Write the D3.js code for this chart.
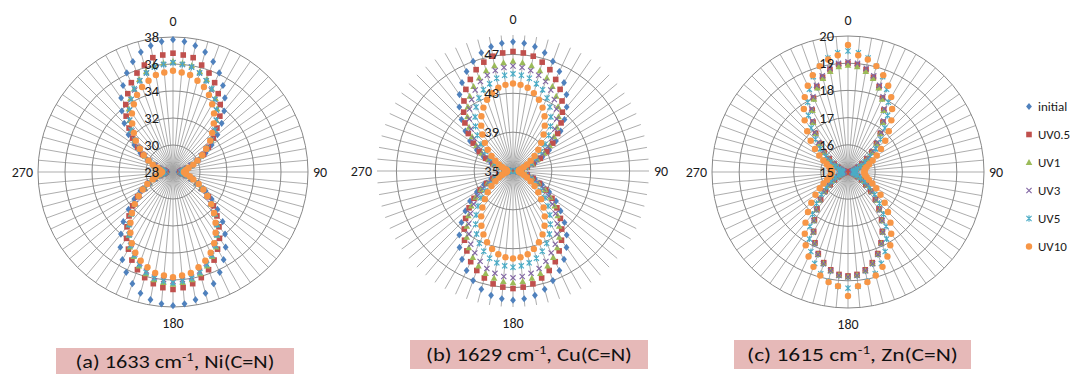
<!DOCTYPE html>
<html>
<head>
<meta charset="utf-8">
<script src="https://cdn.jsdelivr.net/npm/d3@7"></script>
<style>
  body { margin: 0; background: #fff; }
  svg { display: block; font-family: Carlito, Calibri, "Liberation Sans", "Open Sans", sans-serif; }
</style>
</head>
<body>
<div id="chart"></div>
<script>
const W = 1073, H = 374;

// categories: angle in degrees, 5 degree steps
const angles = d3.range(0, 360, 5);
const catShown = [0, 90, 180, 270];
const seriesNames = ["initial", "UV0.5", "UV1", "UV3", "UV5", "UV10"];
const colors = ["#4F81BD", "#C0504D", "#9BBB59", "#8064A2", "#4BACC6", "#F79646"];

const ticksA = [28, 30, 32, 34, 36, 38];
const ticksB = [35, 39, 43, 47];
const ticksC = [15, 16, 17, 18, 19, 20];

// (a) Ni(C=N) 1633 cm-1
const niInit = [37.8,37.7,37.5,37.2,36.7,36.1,35.4,34.7,33.9,33.1,32.3,31.5,30.8,30.1,29.5,29.0,28.7,28.5,28.4,
  28.5,28.7,29.0,29.5,30.1,30.8,31.5,32.3,33.2,34.0,34.8,35.5,36.2,36.8,37.3,37.6,37.8,37.9,
  37.8,37.6,37.3,36.8,36.2,35.5,34.8,34.0,33.2,32.3,31.5,30.8,30.1,29.5,29.0,28.7,28.5,28.4,
  28.5,28.7,29.0,29.5,30.1,30.8,31.5,32.3,33.1,33.9,34.7,35.4,36.1,36.7,37.2,37.5,37.7];
const niUV05 = [36.8,36.7,36.6,36.2,35.8,35.3,34.7,34.1,33.4,32.6,31.9,31.2,30.6,30.0,29.5,29.1,28.7,28.6,28.5,
  28.6,28.7,29.0,29.5,30.0,30.5,31.2,31.9,32.6,33.3,34.0,34.6,35.2,35.7,36.1,36.4,36.6,36.7,
  36.6,36.4,36.1,35.7,35.2,34.6,34.0,33.3,32.6,31.9,31.2,30.5,30.0,29.5,29.0,28.7,28.6,28.5,
  28.6,28.7,29.1,29.5,30.0,30.6,31.2,31.9,32.6,33.4,34.1,34.7,35.3,35.8,36.2,36.6,36.7];
const niUV1 = [36.2,36.1,36.0,35.7,35.3,34.8,34.3,33.7,33.0,32.3,31.7,31.0,30.4,29.9,29.4,29.0,28.7,28.6,28.5,
  28.6,28.7,29.0,29.4,29.9,30.4,31.1,31.7,32.4,33.1,33.7,34.4,34.9,35.4,35.8,36.1,36.2,36.3,
  36.2,36.1,35.8,35.4,34.9,34.4,33.7,33.1,32.4,31.7,31.1,30.4,29.9,29.4,29.0,28.7,28.6,28.5,
  28.6,28.7,29.0,29.4,29.9,30.4,31.0,31.7,32.3,33.0,33.7,34.3,34.8,35.3,35.7,36.0,36.1];
const niUV3 = [36.1,36.0,35.9,35.6,35.2,34.7,34.2,33.6,33.0,32.3,31.6,31.0,30.4,29.9,29.4,29.0,28.7,28.6,28.5,
  28.6,28.7,29.0,29.4,29.9,30.4,31.0,31.6,32.3,33.0,33.6,34.2,34.7,35.2,35.6,35.9,36.0,36.1,
  36.0,35.9,35.6,35.2,34.7,34.2,33.6,33.0,32.3,31.6,31.0,30.4,29.9,29.4,29.0,28.7,28.6,28.5,
  28.6,28.7,29.0,29.4,29.9,30.4,31.0,31.6,32.3,33.0,33.6,34.2,34.7,35.2,35.6,35.9,36.0];
const niUV5 = [36.1,36.0,35.9,35.6,35.2,34.8,34.2,33.6,33.0,32.4,31.7,31.1,30.5,29.9,29.5,29.1,28.8,28.7,28.6,
  28.7,28.8,29.1,29.5,30.0,30.5,31.1,31.7,32.4,33.1,33.7,34.3,34.8,35.3,35.7,36.0,36.1,36.2,
  36.1,36.0,35.7,35.3,34.8,34.3,33.7,33.1,32.4,31.7,31.1,30.5,30.0,29.5,29.1,28.8,28.7,28.6,
  28.7,28.8,29.1,29.5,29.9,30.5,31.1,31.7,32.4,33.0,33.6,34.2,34.8,35.2,35.6,35.9,36.0];
const niUV10 = [35.5,35.4,35.3,35.0,34.7,34.3,33.8,33.3,32.7,32.1,31.6,31.0,30.5,30.0,29.6,29.2,29.0,28.9,28.8,
  28.9,29.0,29.3,29.6,30.1,30.6,31.1,31.7,32.3,32.9,33.5,34.1,34.6,35.0,35.3,35.6,35.7,35.8,
  35.7,35.6,35.3,35.0,34.6,34.1,33.5,32.9,32.3,31.7,31.1,30.6,30.1,29.6,29.3,29.0,28.9,28.8,
  28.9,29.0,29.2,29.6,30.0,30.5,31.0,31.6,32.1,32.7,33.3,33.8,34.3,34.7,35.0,35.3,35.4];

// (b) Cu(C=N) 1629 cm-1
const cuInit = [48.3,48.2,48.0,47.6,47.0,46.3,45.5,44.6,43.6,42.5,41.4,40.4,39.3,38.3,37.4,36.6,36.0,35.5,35.3,
  35.5,36.0,36.6,37.4,38.3,39.3,40.4,41.4,42.5,43.6,44.6,45.5,46.3,47.0,47.6,48.0,48.2,48.3,
  48.2,48.0,47.6,47.0,46.3,45.5,44.6,43.6,42.5,41.4,40.4,39.3,38.3,37.4,36.6,36.0,35.5,35.3,
  35.5,36.0,36.6,37.4,38.3,39.3,40.4,41.4,42.5,43.6,44.6,45.5,46.3,47.0,47.6,48.0,48.2];
const cuUV05 = [47.3,47.2,47.0,46.6,46.1,45.4,44.7,43.8,42.9,42.0,41.0,40.0,39.0,38.1,37.2,36.5,35.9,35.5,35.3,
  35.5,35.9,36.5,37.2,38.0,38.9,39.9,40.9,41.9,42.8,43.7,44.5,45.3,45.9,46.4,46.8,47.0,47.1,
  47.0,46.8,46.4,45.9,45.3,44.5,43.7,42.8,41.9,40.9,39.9,38.9,38.0,37.2,36.5,35.9,35.5,35.3,
  35.5,35.9,36.5,37.2,38.1,39.0,40.0,41.0,42.0,42.9,43.8,44.7,45.4,46.1,46.6,47.0,47.2];
const cuUV1 = [46.3,46.2,46.0,45.7,45.2,44.6,43.9,43.1,42.3,41.4,40.5,39.6,38.7,37.8,37.1,36.4,35.9,35.5,35.3,
  35.5,35.9,36.4,37.1,37.9,38.8,39.7,40.6,41.5,42.4,43.3,44.1,44.8,45.4,45.9,46.2,46.4,46.5,
  46.4,46.2,45.9,45.4,44.8,44.1,43.3,42.4,41.5,40.6,39.7,38.8,37.9,37.1,36.4,35.9,35.5,35.3,
  35.5,35.9,36.4,37.1,37.8,38.7,39.6,40.5,41.4,42.3,43.1,43.9,44.6,45.2,45.7,46.0,46.2];
const cuUV3 = [45.8,45.7,45.5,45.2,44.8,44.2,43.5,42.8,42.0,41.1,40.2,39.4,38.5,37.7,37.0,36.3,35.8,35.5,35.3,
  35.5,35.8,36.4,37.0,37.8,38.6,39.5,40.3,41.2,42.1,42.9,43.7,44.3,44.9,45.4,45.7,45.9,46.0,
  45.9,45.7,45.4,44.9,44.3,43.7,42.9,42.1,41.2,40.3,39.5,38.6,37.8,37.0,36.4,35.8,35.5,35.3,
  35.5,35.8,36.3,37.0,37.7,38.5,39.4,40.2,41.1,42.0,42.8,43.5,44.2,44.8,45.2,45.5,45.7];
const cuUV5 = [45.0,44.9,44.7,44.3,43.9,43.3,42.6,41.8,41.0,40.2,39.3,38.5,37.7,37.0,36.4,35.9,35.6,35.4,35.3,
  35.4,35.6,35.9,36.4,37.0,37.7,38.5,39.3,40.1,40.9,41.7,42.5,43.2,43.8,44.3,44.6,44.8,44.9,
  44.8,44.6,44.3,43.8,43.2,42.5,41.7,40.9,40.1,39.3,38.5,37.7,37.0,36.4,35.9,35.6,35.4,35.3,
  35.4,35.6,35.9,36.4,37.0,37.7,38.5,39.3,40.2,41.0,41.8,42.6,43.3,43.9,44.3,44.7,44.9];
const cuUV10 = [44.0,43.9,43.7,43.3,42.8,42.2,41.5,40.7,39.9,39.1,38.4,37.7,37.1,36.6,36.2,35.9,35.7,35.6,35.6,
  35.6,35.7,35.9,36.2,36.6,37.1,37.7,38.4,39.1,39.9,40.7,41.5,42.2,42.8,43.3,43.7,43.9,44.0,
  43.9,43.7,43.3,42.8,42.2,41.5,40.7,39.9,39.1,38.4,37.7,37.1,36.6,36.2,35.9,35.7,35.6,35.6,
  35.6,35.7,35.9,36.2,36.6,37.1,37.7,38.4,39.1,39.9,40.7,41.5,42.2,42.8,43.3,43.7,43.9];

// (c) Zn(C=N) 1615 cm-1
const znInit = [18.97,18.93,18.80,18.59,18.31,17.98,17.61,17.23,16.84,16.47,16.13,15.83,15.58,15.39,15.25,15.17,15.12,15.10,15.10,
  15.10,15.12,15.17,15.25,15.38,15.57,15.81,16.10,16.43,16.79,17.17,17.54,17.90,18.22,18.49,18.69,18.82,18.86,
  18.82,18.69,18.49,18.22,17.90,17.54,17.17,16.79,16.43,16.10,15.81,15.57,15.38,15.25,15.17,15.12,15.10,15.10,
  15.10,15.12,15.17,15.25,15.39,15.58,15.83,16.13,16.47,16.84,17.23,17.61,17.98,18.31,18.59,18.80,18.93];
const znUV05 = [19.00,18.96,18.82,18.61,18.34,18.00,17.63,17.24,16.85,16.48,16.14,15.84,15.59,15.39,15.26,15.17,15.12,15.10,15.10,
  15.10,15.12,15.16,15.25,15.38,15.57,15.80,16.09,16.42,16.77,17.15,17.52,17.87,18.19,18.45,18.65,18.78,18.82,
  18.78,18.65,18.45,18.19,17.87,17.52,17.15,16.77,16.42,16.09,15.80,15.57,15.38,15.25,15.16,15.12,15.10,15.10,
  15.10,15.12,15.17,15.26,15.39,15.59,15.84,16.14,16.48,16.85,17.24,17.63,18.00,18.34,18.61,18.82,18.96];
const znUV1 = [18.93,18.89,18.76,18.56,18.29,17.96,17.61,17.23,16.85,16.49,16.15,15.86,15.62,15.44,15.30,15.22,15.17,15.15,15.15,
  15.15,15.17,15.21,15.30,15.43,15.61,15.85,16.13,16.46,16.81,17.18,17.55,17.90,18.22,18.48,18.68,18.81,18.85,
  18.81,18.68,18.48,18.22,17.90,17.55,17.18,16.81,16.46,16.13,15.85,15.61,15.43,15.30,15.21,15.17,15.15,15.15,
  15.15,15.17,15.22,15.30,15.44,15.62,15.86,16.15,16.49,16.85,17.23,17.61,17.96,18.29,18.56,18.76,18.89];
const znUV3 = [19.05,19.01,18.87,18.66,18.39,18.05,17.68,17.29,16.90,16.53,16.19,15.89,15.64,15.44,15.31,15.22,15.17,15.15,15.15,
  15.15,15.17,15.21,15.30,15.43,15.61,15.85,16.14,16.46,16.82,17.19,17.56,17.91,18.23,18.49,18.69,18.82,18.86,
  18.82,18.69,18.49,18.23,17.91,17.56,17.19,16.82,16.46,16.14,15.85,15.61,15.43,15.30,15.21,15.17,15.15,15.15,
  15.15,15.17,15.22,15.31,15.44,15.64,15.89,16.19,16.53,16.90,17.29,17.68,18.05,18.39,18.66,18.87,19.01];
const znUV5 = [19.45,19.40,19.26,19.03,18.73,18.36,17.96,17.54,17.11,16.70,16.33,16.00,15.73,15.52,15.37,15.27,15.22,15.20,15.20,
  15.20,15.22,15.27,15.36,15.51,15.71,15.97,16.28,16.64,17.03,17.44,17.84,18.23,18.58,18.87,19.09,19.22,19.27,
  19.22,19.09,18.87,18.58,18.23,17.84,17.44,17.03,16.64,16.28,15.97,15.71,15.51,15.36,15.27,15.22,15.20,15.20,
  15.20,15.22,15.27,15.37,15.52,15.73,16.00,16.33,16.70,17.11,17.54,17.96,18.36,18.73,19.03,19.26,19.40];
const znUV10 = [19.67,19.31,19.20,19.03,18.79,18.50,18.18,17.83,17.48,17.12,16.79,16.48,16.22,16.00,15.83,15.71,15.64,15.61,15.60,
  15.61,15.64,15.71,15.82,15.99,16.20,16.46,16.76,17.08,17.43,17.77,18.11,18.43,18.71,18.94,19.11,19.21,19.56,
  19.21,19.11,18.94,18.71,18.43,18.11,17.77,17.43,17.08,16.76,16.46,16.20,15.99,15.82,15.71,15.64,15.61,15.60,
  15.61,15.64,15.71,15.83,16.00,16.22,16.48,16.79,17.12,17.48,17.83,18.18,18.50,18.79,19.03,19.20,19.31];

const panels = [
  { cx: 173, cy: 172, radius: 135, domain: [28, 38], ticks: ticksA,
    series: [niInit, niUV05, niUV1, niUV3, niUV5, niUV10],
    caption: ["(a) 1633 cm", "-1", ", Ni(C=N)"], box: [56, 348, 238, 30], capY: 368, capW: 199 },
  { cx: 513, cy: 171, radius: 136, domain: [35, 49], ticks: ticksB,
    series: [cuInit, cuUV05, cuUV1, cuUV3, cuUV5, cuUV10],
    caption: ["(b) 1629 cm", "-1", ", Cu(C=N)"], box: [410, 340, 238, 29], capY: 361, capW: 206 },
  { cx: 848, cy: 172, radius: 136, domain: [15, 20], ticks: ticksC,
    series: [znInit, znUV05, znUV1, znUV3, znUV5, znUV10],
    caption: ["(c) 1615 cm", "-1", ", Zn(C=N)"], box: [734, 340, 237, 29], capY: 361, capW: 211 }
];

// marker shapes, Excel style
const markers = [
  { d: "M0,-3.6L2.9,0L0,3.6L-2.9,0Z", fill: true },
  { d: "M-2.8,-2.8H2.8V2.8H-2.8Z", fill: true },
  { d: "M0,-3.4L3.3,2.6L-3.3,2.6Z", fill: true },
  { d: "M-2.6,-2.6L2.6,2.6M-2.6,2.6L2.6,-2.6", fill: false },
  { d: "M-2.6,-2.6L2.6,2.6M-2.6,2.6L2.6,-2.6M0,-3.2V3.2", fill: false },
  { d: "M3.2,0A3.2,3.2 0 1,1 -3.2,0A3.2,3.2 0 1,1 3.2,0Z", fill: true }
];

const angleScale = d3.scaleLinear().domain([0, 360]).range([0, 2 * Math.PI]);

const svg = d3.select("#chart").append("svg")
  .attr("width", W).attr("height", H);

function styleMarker(sel, i) {
  const m = markers[i];
  sel.attr("d", m.d)
    .attr("fill", m.fill ? colors[i] : "none")
    .attr("stroke", m.fill ? "none" : colors[i])
    .attr("stroke-width", 1.1);
}

function drawPanel(p) {
  const g = svg.append("g").attr("transform", `translate(${p.cx},${p.cy})`);
  const r = d3.scaleLinear().domain(p.domain).range([0, p.radius]);
  const pt = (a, v) => [r(v) * Math.sin(angleScale(a)), -r(v) * Math.cos(angleScale(a))];

  // spokes
  g.append("g").selectAll("line").data(angles).join("line")
    .attr("x1", 0).attr("y1", 0)
    .attr("x2", a => pt(a, p.domain[1])[0])
    .attr("y2", a => pt(a, p.domain[1])[1])
    .attr("stroke", "#a4a4a4").attr("stroke-width", 0.9);

  // rings
  g.append("g").selectAll("circle").data(p.ticks.filter(t => t > p.domain[0])).join("circle")
    .attr("r", d => r(d))
    .attr("fill", "none").attr("stroke", "#888").attr("stroke-width", 1);

  // category labels
  const R = p.radius;
  g.append("g").selectAll("text").data(catShown).join("text")
    .attr("x", a => a === 90 ? R + 5 : a === 270 ? -R - 5 : 0)
    .attr("y", a => a === 0 ? -R - 16 : a === 180 ? R + 16 : 0)
    .attr("text-anchor", a => a === 90 ? "start" : a === 270 ? "end" : "middle")
    .attr("dominant-baseline", "central")
    .attr("font-size", 14).attr("fill", "#1a1a1a")
    .text(a => a);

  // series
  p.series.forEach((vals, i) => {
    g.append("g").selectAll("path").data(vals).join("path")
      .attr("transform", (v, k) => `translate(${pt(angles[k], v)})`)
      .call(styleMarker, i);
  });

  // radial tick labels
  g.append("g").selectAll("text").data(p.ticks).join("text")
    .attr("x", -14)
    .attr("y", d => -r(d))
    .attr("text-anchor", "end")
    .attr("dominant-baseline", "central")
    .attr("font-size", 14.5).attr("fill", "#1a1a1a")
    .text(d => d);

  // caption box
  svg.append("rect")
    .attr("x", p.box[0]).attr("y", p.box[1])
    .attr("width", p.box[2]).attr("height", p.box[3])
    .attr("fill", "#E6B9B8");
  const cap = svg.append("text")
    .attr("font-size", 18.5).attr("fill", "#111")
    .attr("text-anchor", "middle");
  cap.append("tspan").text(p.caption[0]);
  cap.append("tspan").attr("dy", -7).attr("font-size", 12).text(p.caption[1]);
  cap.append("tspan").attr("dy", 7).text(p.caption[2]);
  const w = cap.node().getComputedTextLength();
  cap.attr("transform", `translate(${p.box[0] + p.box[2] / 2},${p.capY}) scale(${p.capW / w},1)`);
}

panels.forEach(drawPanel);

// legend
const legY = d3.scalePoint().domain(seriesNames).range([106.5, 246.5]);
const leg = svg.append("g");
seriesNames.forEach((name, i) => {
  leg.append("path")
    .attr("transform", `translate(1029,${legY(name)})`)
    .call(styleMarker, i);
  leg.append("text")
    .attr("x", 1038).attr("y", legY(name))
    .attr("dominant-baseline", "central")
    .attr("font-size", 13).attr("fill", "#1a1a1a")
    .text(name);
});
</script>
</body>
</html>
